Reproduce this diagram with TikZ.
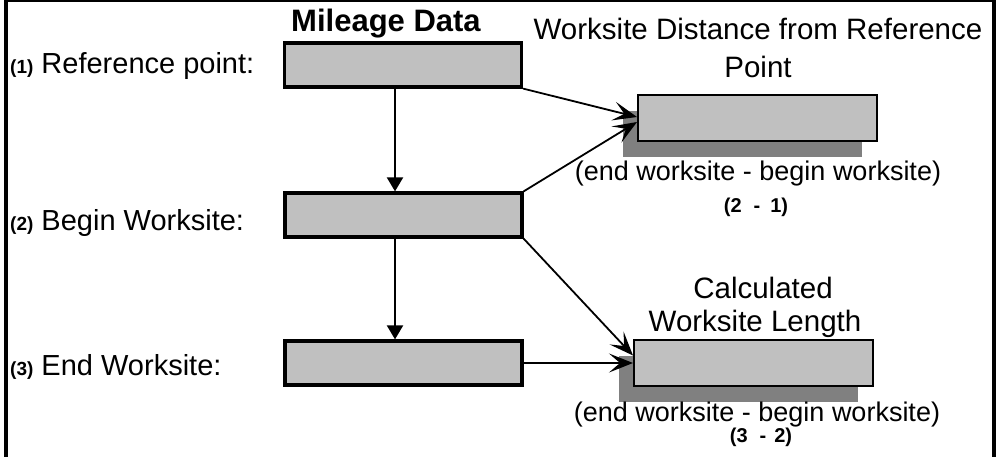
\documentclass[tikz,border=0pt]{standalone}
\usepackage{fontspec}
\setmainfont{Liberation Sans}
\usetikzlibrary{arrows.meta,shadows,calc}

\definecolor{boxgray}{HTML}{C0C0C0}
\definecolor{shadegray}{HTML}{808080}

\newcommand{\fsz}[1]{\fontsize{#1}{#1}\selectfont}

\tikzset{
  databox/.style={draw=black, fill=boxgray, line width=3.2pt, inner sep=0pt,
                  minimum width=237pt, minimum height=44pt},
  resultbox/.style={draw=black, fill=boxgray, line width=2pt, inner sep=0pt,
                    minimum width=239pt, minimum height=46pt,
                    general shadow={fill=shadegray, shadow xshift=-15pt, shadow yshift=-16pt}},
  downarrow/.style={line width=2pt, -{Triangle[length=14pt,width=16pt]}},
  slantarrow/.style={line width=1.8pt, -{Stealth[length=24pt,width=19pt,inset=11pt]}},
  lbl/.style={inner sep=0pt, anchor=base west, font=\fsz{29}},
  ttl/.style={inner sep=0pt, anchor=base, font=\fsz{29.5}},
  sub/.style={inner sep=0pt, anchor=base, font=\fsz{27}},
  tag/.style={inner sep=0pt, anchor=base, font=\bfseries\fsz{20}},
}

\begin{document}
\begin{tikzpicture}[x=1pt, y=-1pt]
  \useasboundingbox (0,0) rectangle (996,457);

  % frame
  \fill (4,0) rectangle (8,457);
  \fill (4,0) rectangle (996,2.5);
  \fill (992,0) rectangle (996,457);

  % column heading
  \node[inner sep=0pt, anchor=base, font=\bfseries\fsz{31}] (head) at (386,32) {Mileage Data};

  % mileage data boxes
  \node[databox] (b1) at (403,65) {};
  \node[databox] (b2) at (403.5,215) {};
  \node[databox] (b3) at (403.5,363) {};

  % row labels
  \node[lbl] (l1) at (10,74) {{\bfseries\fsz{19}(1)} Reference point:};
  \node[lbl] (l2) at (10,230) {{\bfseries\fsz{19}(2)} Begin Worksite:};
  \node[lbl] (l3) at (10,375) {{\bfseries\fsz{19}(3)} End Worksite:};

  % result boxes
  \node[resultbox] (r1) at (757.5,118) {};
  \node[resultbox] (r2) at (753.5,362.5) {};

  % result headings
  \node[ttl] (t1a) at (758,40) {Worksite Distance from Reference};
  \node[ttl] (t1b) at (758,78) {Point};
  \node[ttl] (t2a) at (763,298) {Calculated};
  \node[ttl] (t2b) at (755,331) {Worksite Length};

  % formulas
  \node[sub] (f1) at (758,181) {(end worksite - begin worksite)};
  \node[tag] (n1) at (756,213) {(2\hspace{12pt}-\hspace{10pt}1)};
  \node[sub] (f2) at (757,421) {(end worksite - begin worksite)};
  \node[tag] (n2) at (761,442) {(3\hspace{12pt}-\hspace{8pt}2)};

  % connectors
  \draw[downarrow] (b1.south -| 395,0) -- (b2.north -| 395,0);
  \draw[downarrow] (b2.south -| 395,0) -- (b3.north -| 395,0);
  \draw[slantarrow] (b1.south east) -- ([yshift=1pt]r1.west);
  \draw[slantarrow] (b2.north east) -- ([yshift=-4pt]r1.west);
  \draw[slantarrow] (b2.south east) -- ([yshift=7pt]r2.west);
  \draw[slantarrow] (b3.east) -- (b3.east -| r2.west);
\end{tikzpicture}
\end{document}
